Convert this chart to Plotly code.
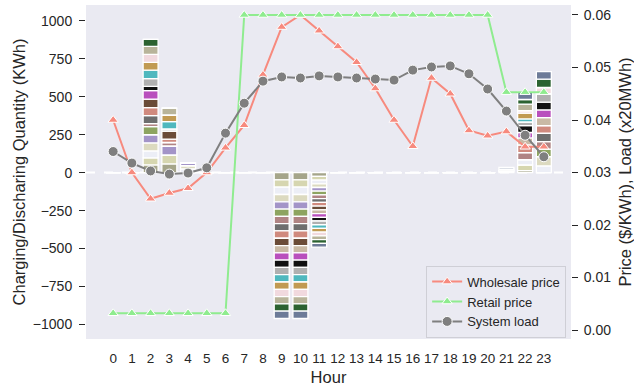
import plotly.graph_objects as go

hours = list(range(24))

# Per-EV colours (stack order: first is closest to zero)
ev_colors = ["#a5a58a", "#d6d6b0", "#eceef6", "#dcdac0", "#a394c8", "#8da460",
             "#b08484", "#6e6e6e", "#d08a7e", "#6b4c38", "#c9b9a5", "#b94fbd",
             "#111111", "#b0b0b0", "#4fb8be", "#c19a52", "#f1d9de", "#b8b49a",
             "#2b6230", "#6d7b98"]

# Charging (+) / discharging (-) quantity per EV (20 values) for the active hours
q_h02 = [51, 46, 46, 53, 53, 53, 20, 53, 53, 55, 0, 57, 28, 51, 55, 51, 53, 53, 46, 0]
q_h03 = [57, 59, 0, 0, 59, 0, 23, 0, 23, 53, 0, 0, 0, 13, 49, 43, 0, 46, 0, 0]
q_h04 = [0, 0, 25, 20, 20, 0, 0, 0, 0, 0, 0, 0, 0, 0, 0, 0, 0, 0, 0, 0]
q_h09 = [-48] * 20
q_h10 = [-48] * 20
q_h11 = [-24.5] * 20
q_h21 = [8, 0, 8, 0, 0, 0, 0, 8, 0, 0, 0, 0, 0, 0, 0, 0, 0, 0, 0, 10]
q_h22 = [13, 37, 36, 0, 0, 0, 45, 0, 51, 0, 46, 36, 45, 24, 20, 39, 15, 44, 30, 51]
q_h23 = [0, 0, 44, 61, 0, 49, 50, 55, 50, 0, 53, 51, 51, 55, 0, 0, 41, 0, 55, 50]

active = {2: q_h02, 3: q_h03, 4: q_h04, 9: q_h09, 10: q_h10, 11: q_h11,
          21: q_h21, 22: q_h22, 23: q_h23}

wholesale_price = [0.0400, 0.0300, 0.0250, 0.0261, 0.0270, 0.0300, 0.0347, 0.0390,
                   0.0486, 0.0577, 0.0600, 0.0570, 0.0540, 0.0510, 0.0460, 0.0400,
                   0.0350, 0.0480, 0.0450, 0.0380, 0.0370, 0.0378, 0.0349, 0.0349]
retail_price = [0.0032] * 7 + [0.060] * 14 + [0.0453] * 3
system_load = [0.0340, 0.0318, 0.0303, 0.0297, 0.0299, 0.0309, 0.0375, 0.0432,
               0.0474, 0.0482, 0.0480, 0.0484, 0.0482, 0.0480, 0.0478, 0.0476,
               0.0495, 0.0501, 0.0503, 0.0488, 0.0459, 0.0417, 0.0371, 0.0330]

fig = go.Figure()

for k, col in enumerate(ev_colors):
    vals = [active[h][k] if h in active else 0 for h in hours]
    fig.add_trace(go.Bar(x=hours, y=vals, width=0.8, marker=dict(color=col, line=dict(color="white", width=1.3)),
                         showlegend=False, hoverinfo="skip", yaxis="y"))

fig.add_trace(go.Scatter(x=hours, y=wholesale_price, mode="lines+markers", name="Wholesale price",
                         line=dict(color="#f78a7e", width=2),
                         marker=dict(symbol="triangle-up", size=9, color="#f78a7e", line=dict(color="white", width=1)),
                         yaxis="y2"))
fig.add_trace(go.Scatter(x=hours, y=retail_price, mode="lines+markers", name="Retail price",
                         line=dict(color="#8fec8f", width=2),
                         marker=dict(symbol="triangle-up", size=9, color="#8fec8f", line=dict(color="white", width=1)),
                         yaxis="y2"))
fig.add_trace(go.Scatter(x=hours, y=system_load, mode="lines+markers", name="System load",
                         line=dict(color="#7f7f7f", width=2),
                         marker=dict(symbol="circle", size=10, color="#7f7f7f", line=dict(color="white", width=1)),
                         yaxis="y2"))

fig.add_shape(type="line", xref="paper", yref="y", x0=0, x1=1, y0=0, y1=0,
              line=dict(color="white", width=2, dash="dash"), layer="below")

font_color = "#262626"
fig.update_layout(
    width=634, height=392,
    margin=dict(l=86, r=63, t=5, b=53, autoexpand=False),
    paper_bgcolor="white", plot_bgcolor="#eaeaf2",
    barmode="relative", bargap=0.2,
    font=dict(family="Liberation Sans, Arial, sans-serif", size=14, color=font_color),
    xaxis=dict(range=[-1.45, 24.45], tickmode="array", tickvals=hours, ticktext=[str(h) for h in hours],
               tickfont=dict(size=13.5),
               showgrid=False, zeroline=False, ticks="", ticklabelstandoff=9, automargin=False,
               title=dict(text="Hour", font=dict(size=16.5), standoff=6)),
    yaxis=dict(range=[-1095, 1103], tickvals=[-1000, -750, -500, -250, 0, 250, 500, 750, 1000],
               ticktext=["\u22121000", "\u2212750", "\u2212500", "\u2212250", "0", "250", "500", "750", "1000"],
               showgrid=False, zeroline=False, ticks="outside", ticklen=6, tickwidth=1.2, tickcolor=font_color,
               ticklabelstandoff=4, automargin=False,
               title=dict(text="Charging/Discharing Quantity (KWh)", font=dict(size=16.5), standoff=3)),
    yaxis2=dict(range=[-0.0017, 0.0619], overlaying="y", side="right",
                tickvals=[0, 0.01, 0.02, 0.03, 0.04, 0.05, 0.06], tickformat=".2f",
                showgrid=False, zeroline=False, ticks="outside", ticklen=6, tickwidth=1.2, tickcolor=font_color,
                ticklabelstandoff=3, automargin=False,
                title=dict(text="Price ($/KWh), Load (x20MWh)", font=dict(size=16.5))),
    legend=dict(x=0.99, y=0.004, xanchor="right", yanchor="bottom",
                bgcolor="rgba(234,234,242,0.85)", bordercolor="#cfcfd6", borderwidth=1,
                font=dict(size=13), tracegroupgap=0),
)

fig.write_html("out.html", post_script="document.body.style.margin='0';",
               config={"displayModeBar": False})
